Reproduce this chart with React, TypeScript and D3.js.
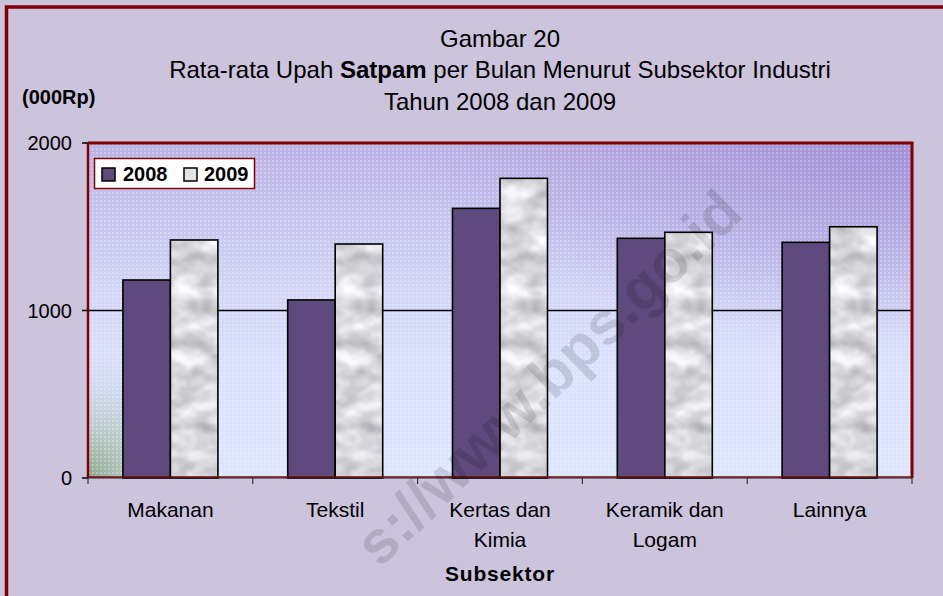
import React from "react";
import * as d3 from "d3";

const categories = ["Makanan", "Tekstil", "Kertas dan\nKimia", "Keramik dan\nLogam", "Lainnya"];
const seriesNames = ["2008", "2009"];
const values2008 = [1182, 1063, 1610, 1431, 1407];
const values2009 = [1421, 1397, 1789, 1467, 1500];
const yTicks = [0, 1000, 2000];
const titleLines = ["Gambar 20", "Rata-rata Upah |Satpam| per Bulan Menurut Subsektor Industri", "Tahun 2008 dan 2009"];
const yUnit = "(000Rp)";
const xTitle = "Subsektor";
const watermark = "s://www.bps.go.id";

const W = 943, H = 596;
const PL = 88, PR = 912, PT = 143, PB = 478;
const FONT = "'Liberation Sans', Arial, Helvetica, sans-serif";

export default function App() {
  const x = d3.scaleBand<string>().domain(categories).range([PL, PR]).padding(0);
  const groupW = 95;
  const inner = d3.scaleBand<string>().domain(seriesNames).range([0, groupW]).padding(0);
  const y = d3.scaleLinear().domain([0, 2000]).range([PB, PT]);
  const off = (x.bandwidth() - groupW) / 2;
  const data = categories.map((c, i) => ({ c, v: [values2008[i], values2009[i]] }));
  const boundaries = [...categories.map((c) => x(c) as number), PR];

  const renderTitle2 = (s: string) =>
    s.split("|").map((p, i) => (
      <tspan key={i} fontWeight={i === 1 ? "bold" : "normal"}>{p}</tspan>
    ));

  return (
    <svg width={W} height={H} style={{ position: "absolute", left: 0, top: 0 }} xmlns="http://www.w3.org/2000/svg">
      <defs>
        <linearGradient id="plotGrad" x1="0" y1="0" x2="0" y2="1">
          <stop offset="0" stopColor="#BBB2E5" />
          <stop offset="0.45" stopColor="#D3D6F7" />
          <stop offset="0.7" stopColor="#DCE2FE" />
          <stop offset="1" stopColor="#DDE5FF" />
        </linearGradient>
        <radialGradient id="purpleCorner" cx="1" cy="0" r="0.6">
          <stop offset="0" stopColor="#9A88D2" stopOpacity="0.8" />
          <stop offset="1" stopColor="#9A88D2" stopOpacity="0" />
        </radialGradient>
        <radialGradient id="greenCorner" gradientUnits="userSpaceOnUse" cx={PL} cy={PB} r={130}>
          <stop offset="0" stopColor="#8AA585" stopOpacity="0.95" />
          <stop offset="0.45" stopColor="#A5BBAA" stopOpacity="0.5" />
          <stop offset="1" stopColor="#B8C8D8" stopOpacity="0" />
        </radialGradient>
        <pattern id="dots" width="4" height="4" patternUnits="userSpaceOnUse">
          <rect x="0" y="0" width="2" height="2" fill="#ffffff" opacity="0.25" />
        </pattern>
        <filter id="marble" x="0" y="0" width="100%" height="100%" colorInterpolationFilters="sRGB">
          <feTurbulence type="fractalNoise" baseFrequency="0.04 0.06" numOctaves="3" seed="11" result="noise" />
          <feColorMatrix in="noise" type="matrix"
            values="0.45 0 0 0 0.62  0.45 0 0 0 0.62  0.45 0 0 0 0.64  0 0 0 0 1" result="gray" />
          <feGaussianBlur in="gray" stdDeviation="1.2" result="soft" />
          <feComposite in="soft" in2="SourceGraphic" operator="in" />
        </filter>
      </defs>

      <rect x={0} y={0} width={W} height={H} fill="#CCC3DC" />
      <rect x={6.5} y={7} width={W + 20} height={H + 20} fill="none" stroke="#800000" strokeWidth={3.5} />

      {/* plot area */}
      <rect x={PL} y={PT} width={PR - PL} height={PB - PT} fill="url(#plotGrad)" />
      <rect x={PL} y={PT} width={PR - PL} height={PB - PT} fill="url(#purpleCorner)" />
      <rect x={PL} y={PT} width={PR - PL} height={PB - PT} fill="url(#greenCorner)" />
      <rect x={PL} y={PT} width={PR - PL} height={PB - PT} fill="url(#dots)" />

      {/* gridline */}
      {yTicks.filter((t) => t !== 0 && t !== 2000).map((t) => (
        <line key={t} x1={PL} x2={PR} y1={y(t)} y2={y(t)} stroke="#000" strokeWidth={1.5} />
      ))}

      {/* bars */}
      {data.map((d) => (
        <g key={d.c} transform={`translate(${(x(d.c) as number) + off},0)`}>
          {d.v.map((v, j) => {
            const bx = inner(seriesNames[j]) as number;
            const bw = inner.bandwidth();
            return (
              <g key={j}>
                {j === 0 ? (
                  <rect x={bx} y={y(v)} width={bw} height={PB - y(v)} fill="#5E4A7D" />
                ) : (
                  <rect x={bx} y={y(v)} width={bw} height={PB - y(v)} fill="#fff" filter="url(#marble)" />
                )}
                <rect x={bx} y={y(v)} width={bw} height={PB - y(v)} fill="none" stroke="#000" strokeWidth={1.6} />
              </g>
            );
          })}
        </g>
      ))}

      {/* plot border */}
      <line x1={PL} x2={PR + 1.5} y1={PT} y2={PT} stroke="#800000" strokeWidth={3} />
      <line x1={PR} x2={PR} y1={PT} y2={PB} stroke="#800000" strokeWidth={3} />
      <line x1={PL} x2={PL} y1={PT} y2={PB} stroke="#800000" strokeWidth={2.5} />
      <line x1={PL} x2={PR} y1={PB - 1} y2={PB - 1} stroke="#800000" strokeWidth={1.5} />
      <line x1={PL} x2={PR} y1={PB} y2={PB} stroke="#222" strokeWidth={1} />

      {/* y axis ticks */}
      {yTicks.map((t) => (
        <g key={t}>
          <line x1={PL - 6} x2={PL} y1={y(t)} y2={y(t)} stroke="#000" strokeWidth={1.5} />
          <text x={72} y={y(t) + 7} textAnchor="end" fontFamily={FONT} fontSize={20} fill="#000">{t}</text>
        </g>
      ))}

      {/* x axis ticks */}
      {boundaries.map((b, i) => (
        <line key={i} x1={b} x2={b} y1={PB} y2={PB + 6} stroke="#333" strokeWidth={1.2} />
      ))}
      {categories.map((c) => (
        <text key={c} x={(x(c) as number) + x.bandwidth() / 2} y={517} textAnchor="middle" fontFamily={FONT} fontSize={21} fill="#000">
          {c.split("\n").map((l, i) => (
            <tspan key={i} x={(x(c) as number) + x.bandwidth() / 2} dy={i === 0 ? 0 : 30}>{l}</tspan>
          ))}
        </text>
      ))}
      <text x={500} y={581} textAnchor="middle" fontFamily={FONT} fontSize={21} fontWeight="bold" letterSpacing={0.8} fill="#000">{xTitle}</text>

      {/* titles */}
      <text x={500} y={47} textAnchor="middle" fontFamily={FONT} fontSize={24} fill="#000">{titleLines[0]}</text>
      <text x={500} y={78} textAnchor="middle" fontFamily={FONT} fontSize={24} fill="#000">{renderTitle2(titleLines[1])}</text>
      <text x={500} y={110} textAnchor="middle" fontFamily={FONT} fontSize={24} fill="#000">{titleLines[2]}</text>
      <text x={22} y={104} fontFamily={FONT} fontSize={20} fontWeight="bold" fill="#000">{yUnit}</text>

      {/* legend */}
      <rect x={94.5} y={158.5} width={160} height={30} fill="#fff" stroke="#800000" strokeWidth={1.5} />
      <rect x={102} y={168} width={13} height={13} fill="#5E4A7D" stroke="#000" strokeWidth={1.5} />
      <text x={123} y={181} fontFamily={FONT} fontSize={20} fontWeight="bold" fill="#000">{seriesNames[0]}</text>
      <rect x={184} y={168} width={13} height={13} fill="#E4E4E6" stroke="#000" strokeWidth={1.5} />
      <text x={204} y={181} fontFamily={FONT} fontSize={20} fontWeight="bold" fill="#000">{seriesNames[1]}</text>

      {/* watermark */}
      <text x={745} y={216} textAnchor="end" fontFamily={FONT} fontSize={60} fontWeight="bold" fill="#000" opacity={0.12}
        transform="rotate(-44 745 216)" style={{ pointerEvents: "none" }}>{watermark}</text>
    </svg>
  );
}
